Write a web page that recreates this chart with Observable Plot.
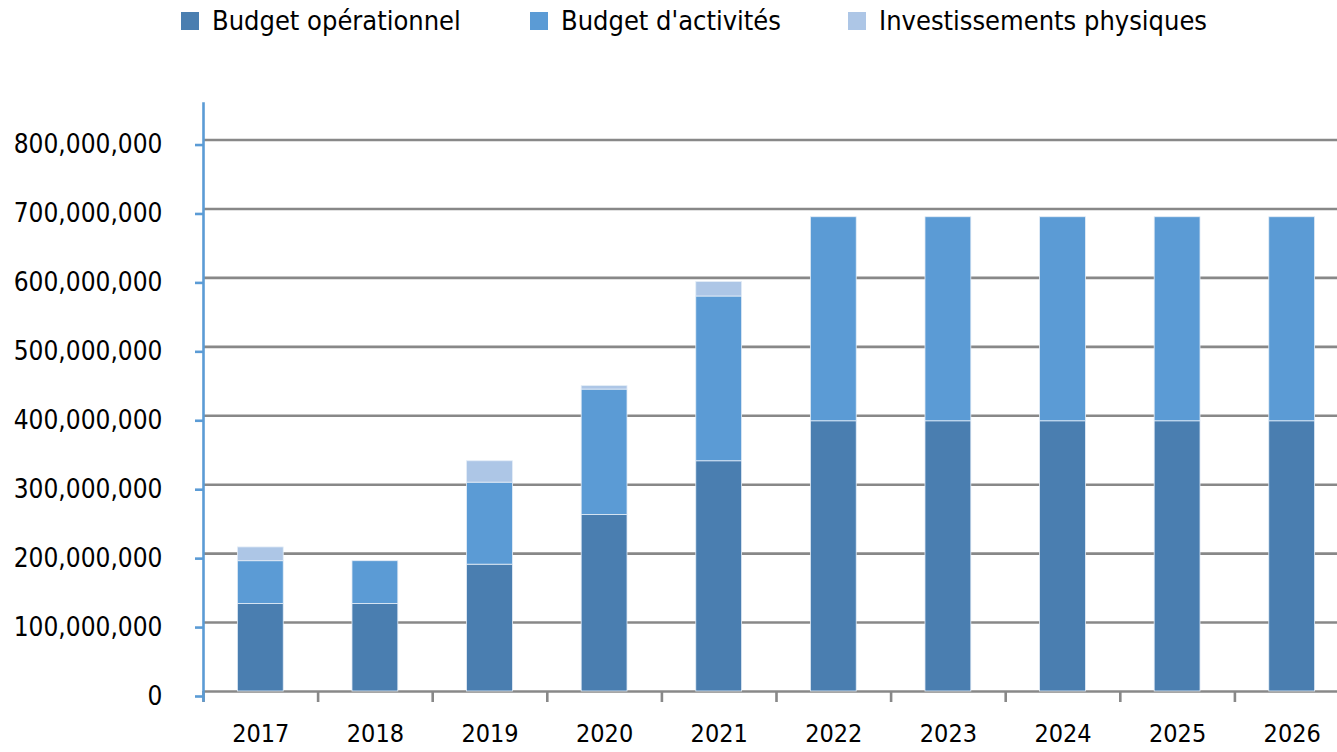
<!DOCTYPE html>
<html><head><meta charset="utf-8">
<script src="https://cdn.jsdelivr.net/npm/d3@7"></script>
<script src="https://cdn.jsdelivr.net/npm/@observablehq/plot@0.6"></script>
<style>
html,body{margin:0;background:#fff;overflow:hidden;}
body{font-family:"DejaVu Sans Condensed","Liberation Sans",sans-serif;}
#legend{height:42px;position:relative;}
.item{position:absolute;top:5px;display:flex;align-items:center;font-size:27px;color:#000;white-space:nowrap;}
.sw{width:18px;height:18px;margin-right:13px;}
</style></head><body>
<div id="legend"></div>
<div id="chart"></div>
<script>
const years = [2017, 2018, 2019, 2020, 2021, 2022, 2023, 2024, 2025, 2026];
const seriesNames = ["Budget opérationnel", "Budget d'activités", "Investissements physiques"];
const seriesColors = ["#4A7EB0", "#5B9BD5", "#ADC6E6"];
const operationnel = [127e6, 127e6, 184e6, 256e6, 334e6, 392e6, 392e6, 392e6, 392e6, 392e6];
const activites    = [62e6, 62e6, 119e6, 182e6, 239e6, 296e6, 296e6, 296e6, 296e6, 296e6];
const investissements = [20e6, 0, 31e6, 5e6, 21e6, 0, 0, 0, 0, 0];
const yTicks = [0, 100e6, 200e6, 300e6, 400e6, 500e6, 600e6, 700e6, 800e6];

const seriesValues = [operationnel, activites, investissements];
const table = [];
seriesNames.forEach((s, si) => years.forEach((yr, i) => table.push({year: yr, series: s, value: seriesValues[si][i]})));

const legend = document.getElementById("legend");
const legendX = [181, 530, 848];
seriesNames.forEach((s, i) => {
  const it = document.createElement("div");
  it.className = "item";
  it.style.left = legendX[i] + "px";
  it.innerHTML = `<span class="sw" style="background:${seriesColors[i]}"></span><span>${s}</span>`;
  legend.appendChild(it);
});

const left = 203, right = 1349;
const step = (right - left) / years.length;

const chart = Plot.plot({
  width: 1337,
  height: 710,
  marginLeft: left,
  marginRight: 0,
  marginTop: 61,
  marginBottom: 61,
  style: {fontFamily: '"DejaVu Sans Condensed","Liberation Sans",sans-serif', fontSize: "26px", color: "#000", background: "#fff", overflow: "hidden"},
  x: {type: "band", domain: years, range: [left, right], round: false, paddingInner: 0.6, paddingOuter: 0.3, label: null},
  y: {domain: [0, 853e6], label: null},
  color: {domain: seriesNames, range: seriesColors},
  marks: [
    Plot.gridY(yTicks, {stroke: "#888", strokeWidth: 2.6, strokeOpacity: 1}),
    Plot.barY(table, {x: "year", y: "value", fill: "series", stroke: "#e4edf7", strokeWidth: 0.8, order: seriesNames}),
    Plot.axisX({tickSize: 11, dx: -step / 2, tickFormat: () => "", stroke: "#888", strokeWidth: 2.6}),
    Plot.axisX({tickSize: 0, tickPadding: 33, tickFormat: d => String(d), fontSize: 25, fill: "#000"}),
    Plot.axisY({ticks: yTicks, tickFormat: d3.format(","), tickSize: 8, tickPadding: 33, stroke: "#5B9BD5", strokeWidth: 2.6, fill: "#000", fontSize: 26, dy: 5}),
    Plot.frame({anchor: "left", stroke: "#5B9BD5", strokeWidth: 2.6, insetBottom: -9})
  ]
});
document.getElementById("chart").appendChild(chart);
</script>
</body></html>
